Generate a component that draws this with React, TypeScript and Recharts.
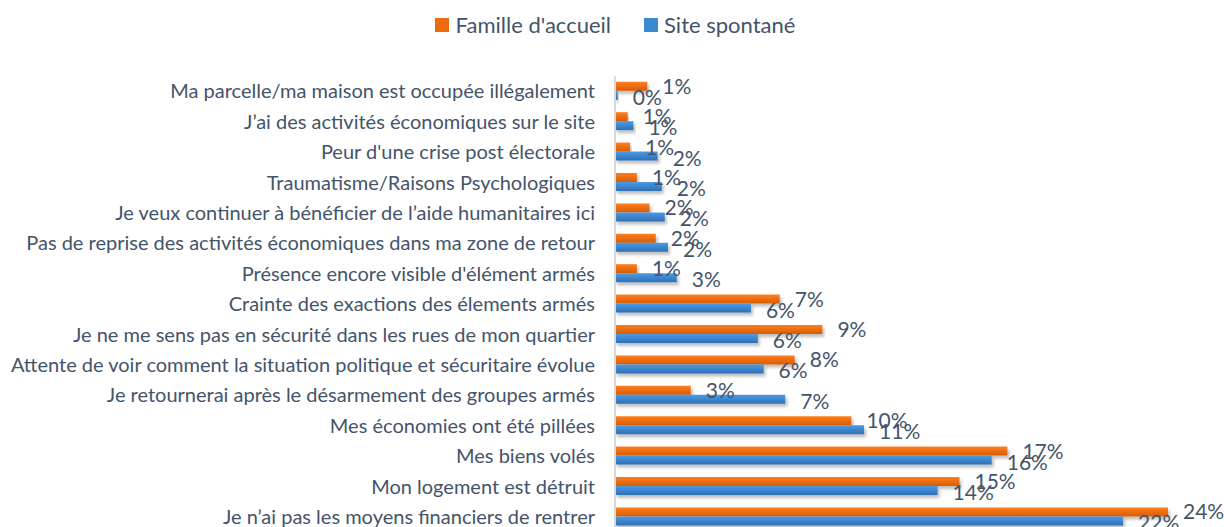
import React from "react";
import { BarChart, Bar, XAxis, YAxis, Legend, LabelList } from "recharts";

const categories = [
  "Ma parcelle/ma maison est occupée illégalement",
  "J’ai des activités économiques sur le site",
  "Peur d'une crise post électorale",
  "Traumatisme/Raisons Psychologiques",
  "Je veux continuer à bénéficier de l’aide humanitaires ici",
  "Pas de reprise des activités économiques dans ma zone de retour",
  "Présence encore visible d'élément armés",
  "Crainte des exactions des élements armés",
  "Je ne me sens pas en sécurité dans les rues de mon quartier",
  "Attente de voir comment la situation politique et sécuritaire évolue",
  "Je retournerai après le désarmement des groupes armés",
  "Mes économies ont été pillées",
  "Mes biens volés",
  "Mon logement est détruit",
  "Je n’ai pas les moyens financiers de rentrer",
];

const familleAccueil = [1.4, 0.55, 0.65, 0.95, 1.5, 1.77, 0.95, 7.15, 9.0, 7.8, 3.29, 10.26, 17.03, 14.95, 24.0];
const siteSpontane = [0.12, 0.8, 1.85, 2.03, 2.16, 2.3, 2.68, 5.9, 6.2, 6.45, 7.39, 10.81, 16.35, 14.0, 22.05];

const data = categories.map((name, i) => ({
  name,
  famille: familleAccueil[i],
  site: siteSpontane[i],
}));

const textColor = "#44546A";
const font = "Lato, 'Open Sans', sans-serif";

const pct = (v: any) => `${Math.round(Number(v))}%`;

const renderLegend = () => (
  <div style={{ display: "flex", justifyContent: "center", gap: 33, fontFamily: font, fontSize: 22, color: textColor, paddingLeft: 62 }}>
    <span style={{ display: "flex", alignItems: "center" }}>
      <span style={{ width: 14, height: 14, background: "#EE6A0E", marginRight: 7 }} />
      Famille d'accueil
    </span>
    <span style={{ display: "flex", alignItems: "center" }}>
      <span style={{ width: 14, height: 14, background: "#3D88D2", marginRight: 6 }} />
      Site spontané
    </span>
  </div>
);

export default function App() {
  return (
    <div style={{ position: "absolute", top: 0, left: 0, width: 1224, height: 527, overflow: "hidden", background: "#fff" }}>
      <BarChart
        width={1224}
        height={545}
        data={data}
        layout="vertical"
        margin={{ top: 10, right: 56, bottom: 13, left: 0 }}
        barCategoryGap="19%"
        barGap={0}
      >
        <defs>
          <linearGradient id="gOrange" x1="0" y1="0" x2="0" y2="1">
            <stop offset="0%" stopColor="#FF7F1E" />
            <stop offset="100%" stopColor="#D85C02" />
          </linearGradient>
          <linearGradient id="gBlue" x1="0" y1="0" x2="0" y2="1">
            <stop offset="0%" stopColor="#4A9BE6" />
            <stop offset="100%" stopColor="#2E70B5" />
          </linearGradient>
          <filter id="shadow" x="-5%" y="-30%" width="115%" height="200%">
            <feDropShadow dx="2" dy="3" stdDeviation="1.5" floodColor="#000" floodOpacity="0.25" />
          </filter>
        </defs>
        <Legend verticalAlign="top" height={66} content={renderLegend} wrapperStyle={{ top: 11 }} />
        <XAxis type="number" domain={[0, 24]} hide />
        <YAxis
          type="category"
          dataKey="name"
          width={615}
          tickLine={false}
          tickSize={0}
          tickMargin={20}
          axisLine={{ stroke: "#D9D9D9", strokeWidth: 2 }}
          tick={{ fill: textColor, fontSize: 20, fontFamily: font }}
          interval={0}
        />
        <Bar dataKey="famille" name="Famille d'accueil" fill="url(#gOrange)" filter="url(#shadow)" isAnimationActive={false}>
          <LabelList dataKey="famille" position="right" offset={15} formatter={pct} fill={textColor} fontSize={21} fontFamily={font} />
        </Bar>
        <Bar dataKey="site" name="Site spontané" fill="url(#gBlue)" filter="url(#shadow)" isAnimationActive={false}>
          <LabelList dataKey="site" position="right" offset={15} formatter={pct} fill={textColor} fontSize={21} fontFamily={font} dy={2} />
        </Bar>
      </BarChart>
    </div>
  );
}
